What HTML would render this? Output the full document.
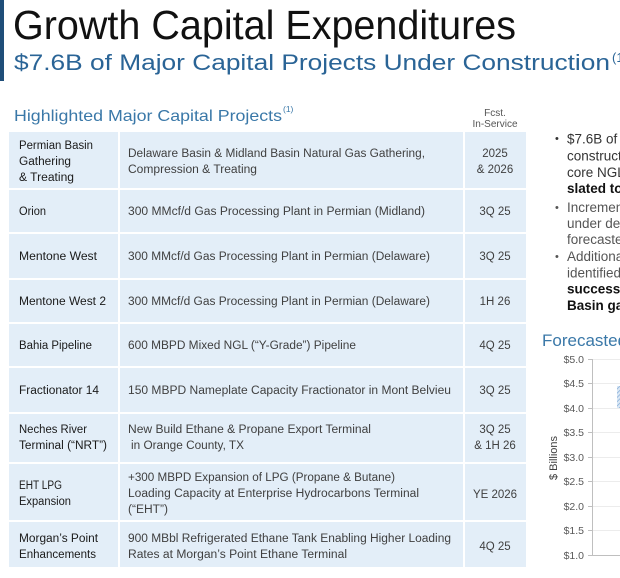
<!DOCTYPE html>
<html>
<head>
<meta charset="utf-8">
<style>
  html,body{margin:0;padding:0;background:#fff;}
  svg{display:block;}
  text{font-family:"Liberation Sans", Arial, sans-serif;}
</style>
</head>
<body>
<svg width="620" height="578" viewBox="0 0 620 578" xmlns="http://www.w3.org/2000/svg">
  <defs>
    <pattern id="hatch" width="3" height="3" patternUnits="userSpaceOnUse" patternTransform="rotate(45)">
      <rect width="3" height="3" fill="#dbe8f5"/>
      <line x1="0" y1="0" x2="0" y2="3" stroke="#7fa9d6" stroke-width="1.4"/>
    </pattern>
  </defs>

  <!-- header -->
  <rect x="0" y="0" width="4" height="81" fill="#1f4e79"/>
  <text x="13" y="39" font-size="41" fill="#111" textLength="503" lengthAdjust="spacingAndGlyphs">Growth Capital Expenditures</text>
  <text x="14" y="70" font-size="22.5" fill="#2a6496" textLength="596" lengthAdjust="spacingAndGlyphs">$7.6B of Major Capital Projects Under Construction</text>
  <text x="612" y="62" font-size="13" fill="#2a6496">(1)</text>

  <text x="14" y="121" font-size="16" fill="#3a78a8" textLength="268" lengthAdjust="spacingAndGlyphs">Highlighted Major Capital Projects</text>
  <text x="283" y="112" font-size="8.5" fill="#3a78a8">(1)</text>

  <text x="495" y="116" font-size="10" fill="#555" text-anchor="middle">Fcst.</text>
  <text x="495" y="127" font-size="10" fill="#555" text-anchor="middle">In-Service</text>

  <!-- table backgrounds -->
  <g fill="#e3eef8">
    <!-- row1 -->
    <rect x="9" y="132" width="109" height="56"/><rect x="120" y="132" width="343" height="56"/><rect x="465" y="132" width="61" height="56"/>
    <rect x="9" y="190" width="109" height="42"/><rect x="120" y="190" width="343" height="42"/><rect x="465" y="190" width="61" height="42"/>
    <rect x="9" y="234" width="109" height="44"/><rect x="120" y="234" width="343" height="44"/><rect x="465" y="234" width="61" height="44"/>
    <rect x="9" y="280" width="109" height="42"/><rect x="120" y="280" width="343" height="42"/><rect x="465" y="280" width="61" height="42"/>
    <rect x="9" y="324" width="109" height="42"/><rect x="120" y="324" width="343" height="42"/><rect x="465" y="324" width="61" height="42"/>
    <rect x="9" y="368" width="109" height="44"/><rect x="120" y="368" width="343" height="44"/><rect x="465" y="368" width="61" height="44"/>
    <rect x="9" y="414" width="109" height="48"/><rect x="120" y="414" width="343" height="48"/><rect x="465" y="414" width="61" height="48"/>
    <rect x="9" y="464" width="109" height="56"/><rect x="120" y="464" width="343" height="56"/><rect x="465" y="464" width="61" height="56"/>
    <rect x="9" y="522" width="109" height="45"/><rect x="120" y="522" width="343" height="45"/><rect x="465" y="522" width="61" height="45"/>
  </g>

  <!-- left column -->
  <g font-size="11.5" fill="#1a1a1a" lengthAdjust="spacingAndGlyphs">
    <text x="19" y="149" textLength="74" lengthAdjust="spacingAndGlyphs">Permian Basin</text>
    <text x="19" y="165" textLength="52" lengthAdjust="spacingAndGlyphs">Gathering</text>
    <text x="19" y="181" textLength="55" lengthAdjust="spacingAndGlyphs">&amp; Treating</text>
    <text x="19" y="215" textLength="27" lengthAdjust="spacingAndGlyphs">Orion</text>
    <text x="19" y="260" textLength="78" lengthAdjust="spacingAndGlyphs">Mentone West</text>
    <text x="19" y="305" textLength="87" lengthAdjust="spacingAndGlyphs">Mentone West 2</text>
    <text x="19" y="349" textLength="73" lengthAdjust="spacingAndGlyphs">Bahia Pipeline</text>
    <text x="19" y="394" textLength="80" lengthAdjust="spacingAndGlyphs">Fractionator 14</text>
    <text x="19" y="433" textLength="68" lengthAdjust="spacingAndGlyphs">Neches River</text>
    <text x="19" y="449" textLength="88" lengthAdjust="spacingAndGlyphs">Terminal (“NRT”)</text>
    <text x="19" y="489" textLength="43" lengthAdjust="spacingAndGlyphs">EHT LPG</text>
    <text x="19" y="505" textLength="52" lengthAdjust="spacingAndGlyphs">Expansion</text>
    <text x="19" y="542" textLength="79" lengthAdjust="spacingAndGlyphs">Morgan’s Point</text>
    <text x="19" y="558" textLength="77" lengthAdjust="spacingAndGlyphs">Enhancements</text>
  </g>

  <!-- middle column -->
  <g font-size="11.5" fill="#404040">
    <text x="128" y="157" textLength="297" lengthAdjust="spacingAndGlyphs">Delaware Basin &amp; Midland Basin Natural Gas Gathering,</text>
    <text x="128" y="173" textLength="129" lengthAdjust="spacingAndGlyphs">Compression &amp; Treating</text>
    <text x="128" y="215" textLength="297" lengthAdjust="spacingAndGlyphs">300 MMcf/d Gas Processing Plant in Permian (Midland)</text>
    <text x="128" y="260" textLength="302" lengthAdjust="spacingAndGlyphs">300 MMcf/d Gas Processing Plant in Permian (Delaware)</text>
    <text x="128" y="305" textLength="302" lengthAdjust="spacingAndGlyphs">300 MMcf/d Gas Processing Plant in Permian (Delaware)</text>
    <text x="128" y="349" textLength="228" lengthAdjust="spacingAndGlyphs">600 MBPD Mixed NGL (“Y-Grade”) Pipeline</text>
    <text x="128" y="394" textLength="323" lengthAdjust="spacingAndGlyphs">150 MBPD Nameplate Capacity Fractionator in Mont Belvieu</text>
    <text x="128" y="433" textLength="243" lengthAdjust="spacingAndGlyphs">New Build Ethane &amp; Propane Export Terminal</text>
    <text x="131" y="449" textLength="113" lengthAdjust="spacingAndGlyphs">in Orange County, TX</text>
    <text x="128" y="481" textLength="267" lengthAdjust="spacingAndGlyphs">+300 MBPD Expansion of LPG (Propane &amp; Butane)</text>
    <text x="128" y="497" textLength="291" lengthAdjust="spacingAndGlyphs">Loading Capacity at Enterprise Hydrocarbons Terminal</text>
    <text x="128" y="513" textLength="40" lengthAdjust="spacingAndGlyphs">(“EHT”)</text>
    <text x="128" y="542" textLength="323" lengthAdjust="spacingAndGlyphs">900 MBbl Refrigerated Ethane Tank Enabling Higher Loading</text>
    <text x="128" y="558" textLength="219" lengthAdjust="spacingAndGlyphs">Rates at Morgan’s Point Ethane Terminal</text>
  </g>

  <!-- right column -->
  <g font-size="11.5" fill="#404040" text-anchor="middle">
    <text x="495" y="157">2025</text>
    <text x="495" y="173">&amp; 2026</text>
    <text x="495" y="215">3Q 25</text>
    <text x="495" y="260">3Q 25</text>
    <text x="495" y="305">1H 26</text>
    <text x="495" y="349">4Q 25</text>
    <text x="495" y="394">3Q 25</text>
    <text x="495" y="433">3Q 25</text>
    <text x="495" y="449">&amp; 1H 26</text>
    <text x="495" y="498">YE 2026</text>
    <text x="495" y="550">4Q 25</text>
  </g>

  <!-- bullets -->
  <g font-size="13.5" fill="#333">
    <text x="555" y="142" font-size="11">•</text>
    <text x="567" y="143.5">$7.6B of major capital projects</text>
    <text x="567" y="160.5">construction supporting</text>
    <text x="567" y="177">core NGL value chain</text>
    <text x="567" y="193" font-weight="bold" fill="#111">slated to come online</text>
    <text x="555" y="211" font-size="11" fill="#555">•</text>
    <text x="567" y="212" fill="#555">Incremental projects</text>
    <text x="567" y="228" fill="#555">under development</text>
    <text x="567" y="244" fill="#555">forecasted</text>
    <text x="555" y="260" font-size="11" fill="#555">•</text>
    <text x="567" y="261" fill="#555">Additional projects</text>
    <text x="567" y="277.5" fill="#555">identified</text>
    <text x="567" y="293.5" font-weight="bold" fill="#111">successful</text>
    <text x="567" y="310" font-weight="bold" fill="#111">Basin gathering</text>
  </g>

  <!-- chart -->
  <text x="542" y="346" font-size="17" fill="#3a78a8">Forecasted Growth Capital</text>
  <g stroke="#ececec" stroke-width="1">
    <line x1="593" y1="359.5" x2="620" y2="359.5"/>
    <line x1="593" y1="383.5" x2="620" y2="383.5"/>
    <line x1="593" y1="408.5" x2="620" y2="408.5"/>
    <line x1="593" y1="432.5" x2="620" y2="432.5"/>
    <line x1="593" y1="457.5" x2="620" y2="457.5"/>
    <line x1="593" y1="481.5" x2="620" y2="481.5"/>
    <line x1="593" y1="506.5" x2="620" y2="506.5"/>
    <line x1="593" y1="530.5" x2="620" y2="530.5"/>
  </g>
  <g stroke="#bfbfbf" stroke-width="1">
    <line x1="592.5" y1="359" x2="592.5" y2="555"/>
    <line x1="588" y1="359.5" x2="592" y2="359.5"/>
    <line x1="588" y1="383.5" x2="592" y2="383.5"/>
    <line x1="588" y1="408.5" x2="592" y2="408.5"/>
    <line x1="588" y1="432.5" x2="592" y2="432.5"/>
    <line x1="588" y1="457.5" x2="592" y2="457.5"/>
    <line x1="588" y1="481.5" x2="592" y2="481.5"/>
    <line x1="588" y1="506.5" x2="592" y2="506.5"/>
    <line x1="588" y1="530.5" x2="592" y2="530.5"/>
    <line x1="588" y1="555.5" x2="620" y2="555.5"/>
  </g>
  <rect x="617" y="386" width="4" height="22" fill="url(#hatch)"/>
  <g font-size="10.5" fill="#595959" text-anchor="end">
    <text x="584" y="363">$5.0</text>
    <text x="584" y="387">$4.5</text>
    <text x="584" y="412">$4.0</text>
    <text x="584" y="436">$3.5</text>
    <text x="584" y="461">$3.0</text>
    <text x="584" y="485">$2.5</text>
    <text x="584" y="510">$2.0</text>
    <text x="584" y="534">$1.5</text>
    <text x="584" y="559">$1.0</text>
  </g>
  <text x="0" y="0" font-size="11" fill="#404040" text-anchor="middle" transform="translate(557,458) rotate(-90)">$ Billions</text>
</svg>
</body>
</html>
